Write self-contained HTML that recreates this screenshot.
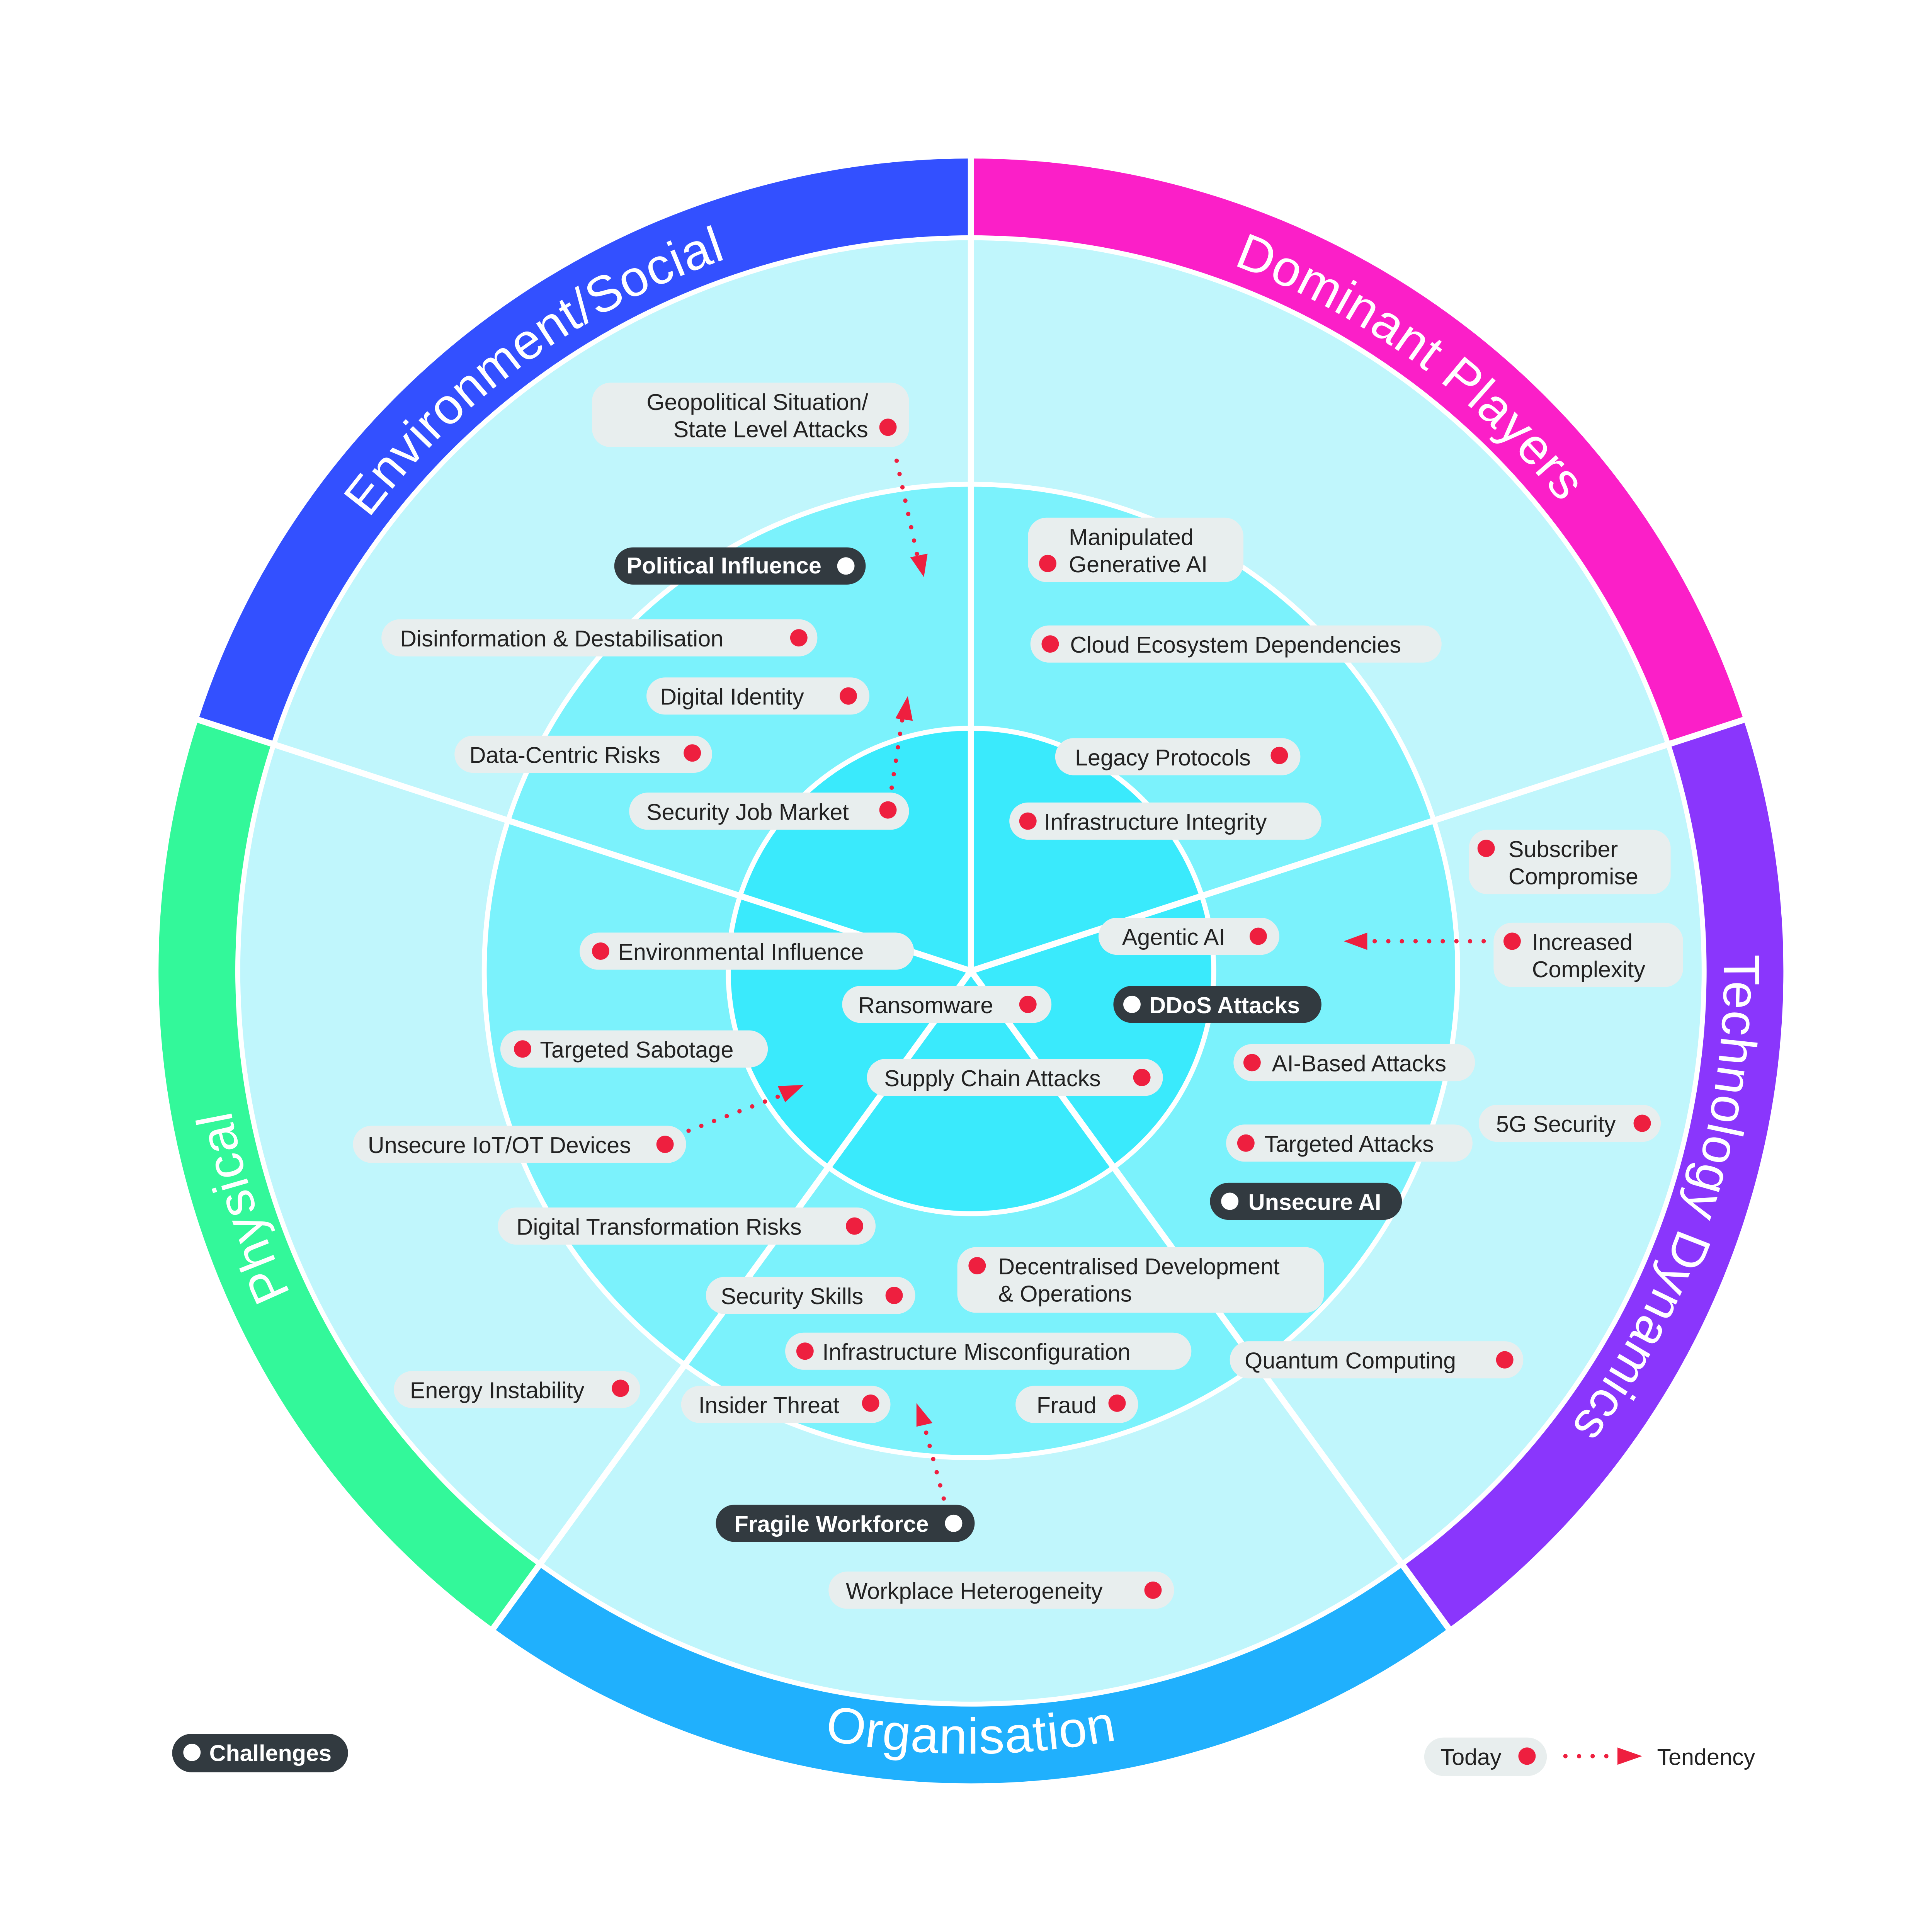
<!DOCTYPE html>
<html><head><meta charset="utf-8"><style>
html,body{margin:0;padding:0;background:#fff;width:100%;height:100%;overflow:hidden}
svg{display:block;width:100vw;height:100vh}
text{font-family:"Liberation Sans",sans-serif}
.t{font-size:18.5px;fill:#222}
.w{font-size:18.5px;fill:#fff;font-weight:bold}
.p{fill:#e8eeee}
.d{fill:#323a40}
.r{fill:#ee1f3f}
.rl{font-size:41px;fill:#fff;letter-spacing:0.5px}
.ar{stroke:#ee1f3f;stroke-width:3.5;stroke-linecap:round;stroke-dasharray:0 11;fill:none}
</style></head><body>
<svg viewBox="0 0 1560 1560" preserveAspectRatio="xMidYMid meet" xmlns="http://www.w3.org/2000/svg">
<rect width="1560" height="1560" fill="#fff"/>
<path d="M784,128 A656,656 0 0 1 1407.9,581.3 L1347.1,601.1 A592,592 0 0 0 784,192 Z" fill="#fb1fc8"/>
<path d="M1407.9,581.3 A656,656 0 0 1 1169.6,1314.7 L1132,1262.9 A592,592 0 0 0 1347.1,601.1 Z" fill="#8a36fc"/>
<path d="M1169.6,1314.7 A656,656 0 0 1 398.4,1314.7 L436,1262.9 A592,592 0 0 0 1132,1262.9 Z" fill="#20b0fd"/>
<path d="M398.4,1314.7 A656,656 0 0 1 160.1,581.3 L220.9,601.1 A592,592 0 0 0 436,1262.9 Z" fill="#33f89a"/>
<path d="M160.1,581.3 A656,656 0 0 1 784,128 L784,192 A592,592 0 0 0 220.9,601.1 Z" fill="#3350ff"/>
<circle cx="784" cy="784" r="592" fill="#c0f6fc" stroke="#fff" stroke-width="4"/>
<circle cx="784" cy="784" r="393" fill="#7bf2fc" stroke="#fff" stroke-width="4"/>
<circle cx="784" cy="784" r="196" fill="#3aeafc" stroke="#fff" stroke-width="4"/>
<g stroke="#fff" stroke-width="5">
<line x1="784" y1="784" x2="784" y2="124"/>
<line x1="784" y1="784" x2="1411.7" y2="580"/>
<line x1="784" y1="784" x2="1172" y2="1318"/>
<line x1="784" y1="784" x2="396" y2="1318"/>
<line x1="784" y1="784" x2="156.3" y2="580"/>
</g>
<defs>
<path id="aE" d="M205.7,596.1 A608,608 0 0 1 784,176"/>
<path id="aD" d="M784,176 A608,608 0 0 1 1362.3,596.1"/>
<path id="aT" d="M1362.3,596.1 A608,608 0 0 1 1141.4,1275.9"/>
<path id="aP" d="M426.6,1275.9 A608,608 0 0 1 205.7,596.1"/>
<path id="aO" d="M412.5,1295.3 A632,632 0 0 0 1155.5,1295.3"/>
</defs>
<text class="rl"><textPath href="#aE" startOffset="50%" text-anchor="middle">Environment/Social</textPath></text>
<text class="rl"><textPath href="#aD" startOffset="50%" text-anchor="middle">Dominant Players</textPath></text>
<text class="rl"><textPath href="#aT" startOffset="50%" text-anchor="middle">Technology Dynamics</textPath></text>
<text class="rl"><textPath href="#aP" startOffset="50%" text-anchor="middle">Physical</textPath></text>
<text class="rl"><textPath href="#aO" startOffset="50%" text-anchor="middle">Organisation</textPath></text>

<g>
<path class="ar" d="M724,372 L741,450"/><polygon class="r" points="735,450 749,447 746,466"/>
<path class="ar" d="M720,636 L729,578"/><polygon class="r" points="723,580 737,582 733,562"/>
<path class="ar" d="M1198,760 L1104,760"/><polygon class="r" points="1104,753 1104,767 1085,760"/>
<path class="ar" d="M556,913 L632,884"/><polygon class="r" points="628,877 634,890 649,876"/>
<path class="ar" d="M762,1210 L746,1150"/><polygon class="r" points="740,1152 753,1149 740,1133"/>
</g>

<rect class="p" x="478" y="309" width="256" height="52" rx="15"/>
<text class="t" x="701" y="331" text-anchor="end">Geopolitical Situation/</text>
<text class="t" x="701" y="353" text-anchor="end">State Level Attacks</text>
<circle class="r" cx="717" cy="345" r="7"/>

<rect class="d" x="496" y="442" width="203" height="30" rx="15"/>
<text class="w" x="506" y="463">Political Influence</text>
<circle cx="683" cy="457" r="7" fill="#fff"/>

<rect class="p" x="308" y="500" width="352" height="30" rx="15"/>
<text class="t" x="323" y="522">Disinformation &amp; Destabilisation</text>
<circle class="r" cx="645" cy="515" r="7"/>

<rect class="p" x="522" y="547" width="180" height="30" rx="15"/>
<text class="t" x="533" y="569">Digital Identity</text>
<circle class="r" cx="685" cy="562" r="7"/>

<rect class="p" x="367" y="594" width="208" height="30" rx="15"/>
<text class="t" x="379" y="616">Data-Centric Risks</text>
<circle class="r" cx="559" cy="608" r="7"/>

<rect class="p" x="508" y="640" width="226" height="30" rx="15"/>
<text class="t" x="522" y="662">Security Job Market</text>
<circle class="r" cx="717" cy="654" r="7"/>

<rect class="p" x="468" y="753" width="270" height="30" rx="15"/>
<circle class="r" cx="485" cy="768" r="7"/>
<text class="t" x="499" y="775">Environmental Influence</text>

<rect class="p" x="404" y="832" width="216" height="30" rx="15"/>
<circle class="r" cx="422" cy="847" r="7"/>
<text class="t" x="436" y="854">Targeted Sabotage</text>

<rect class="p" x="285" y="909" width="269" height="30" rx="15"/>
<text class="t" x="297" y="931">Unsecure IoT/OT Devices</text>
<circle class="r" cx="537" cy="924" r="7"/>

<rect class="p" x="318" y="1107" width="199" height="30" rx="15"/>
<text class="t" x="331" y="1129">Energy Instability</text>
<circle class="r" cx="501" cy="1121" r="7"/>

<rect class="p" x="680" y="796" width="169" height="30" rx="15"/>
<text class="t" x="693" y="818">Ransomware</text>
<circle class="r" cx="830" cy="811" r="7"/>

<rect class="d" x="899" y="796" width="168" height="30" rx="15"/>
<circle cx="914" cy="811" r="7" fill="#fff"/>
<text class="w" x="928" y="818">DDoS Attacks</text>

<rect class="p" x="700" y="855" width="239" height="30" rx="15"/>
<text class="t" x="714" y="877">Supply Chain Attacks</text>
<circle class="r" cx="922" cy="870" r="7"/>

<rect class="p" x="402" y="975" width="305" height="30" rx="15"/>
<text class="t" x="417" y="997">Digital Transformation Risks</text>
<circle class="r" cx="690" cy="990" r="7"/>

<rect class="p" x="570" y="1031" width="169" height="30" rx="15"/>
<text class="t" x="582" y="1053">Security Skills</text>
<circle class="r" cx="722" cy="1046" r="7"/>

<rect class="p" x="634" y="1076" width="328" height="30" rx="15"/>
<circle class="r" cx="650" cy="1091" r="7"/>
<text class="t" x="664" y="1098">Infrastructure Misconfiguration</text>

<rect class="p" x="550" y="1119" width="169" height="30" rx="15"/>
<text class="t" x="564" y="1141">Insider Threat</text>
<circle class="r" cx="703" cy="1133" r="7"/>

<rect class="p" x="820" y="1119" width="99" height="30" rx="15"/>
<text class="t" x="837" y="1141">Fraud</text>
<circle class="r" cx="902" cy="1133" r="7"/>

<rect class="d" x="578" y="1215" width="209" height="30" rx="15"/>
<text class="w" x="593" y="1237">Fragile Workforce</text>
<circle cx="770" cy="1230" r="7" fill="#fff"/>

<rect class="p" x="669" y="1269" width="279" height="30" rx="15"/>
<text class="t" x="683" y="1291">Workplace Heterogeneity</text>
<circle class="r" cx="931" cy="1284" r="7"/>

<rect class="p" x="830" y="418" width="174" height="52" rx="15"/>
<text class="t" x="863" y="440">Manipulated</text>
<text class="t" x="863" y="462">Generative AI</text>
<circle class="r" cx="846" cy="455" r="7"/>

<rect class="p" x="832" y="505" width="332" height="30" rx="15"/>
<circle class="r" cx="848" cy="520" r="7"/>
<text class="t" x="864" y="527">Cloud Ecosystem Dependencies</text>

<rect class="p" x="852" y="596" width="198" height="30" rx="15"/>
<text class="t" x="868" y="618">Legacy Protocols</text>
<circle class="r" cx="1033" cy="610" r="7"/>

<rect class="p" x="815" y="648" width="252" height="30" rx="15"/>
<circle class="r" cx="830" cy="663" r="7"/>
<text class="t" x="843" y="670">Infrastructure Integrity</text>

<rect class="p" x="1186" y="670" width="163" height="52" rx="15"/>
<circle class="r" cx="1200" cy="685" r="7"/>
<text class="t" x="1218" y="692">Subscriber</text>
<text class="t" x="1218" y="714">Compromise</text>

<rect class="p" x="887" y="741" width="146" height="30" rx="15"/>
<text class="t" x="906" y="763">Agentic AI</text>
<circle class="r" cx="1016" cy="756" r="7"/>

<rect class="p" x="1206" y="745" width="153" height="52" rx="15"/>
<circle class="r" cx="1221" cy="760" r="7"/>
<text class="t" x="1237" y="767">Increased</text>
<text class="t" x="1237" y="789">Complexity</text>

<rect class="p" x="996" y="843" width="195" height="30" rx="15"/>
<circle class="r" cx="1011" cy="858" r="7"/>
<text class="t" x="1027" y="865">AI-Based Attacks</text>

<rect class="p" x="1194" y="892" width="147" height="30" rx="15"/>
<text class="t" x="1208" y="914">5G Security</text>
<circle class="r" cx="1326" cy="907" r="7"/>

<rect class="p" x="990" y="908" width="199" height="30" rx="15"/>
<circle class="r" cx="1006" cy="923" r="7"/>
<text class="t" x="1021" y="930">Targeted Attacks</text>

<rect class="d" x="977" y="955" width="155" height="30" rx="15"/>
<circle cx="993" cy="970" r="7" fill="#fff"/>
<text class="w" x="1008" y="977">Unsecure AI</text>

<rect class="p" x="773" y="1007" width="296" height="53" rx="15"/>
<circle class="r" cx="789" cy="1022" r="7"/>
<text class="t" x="806" y="1029">Decentralised Development</text>
<text class="t" x="806" y="1051">&amp; Operations</text>

<rect class="p" x="993" y="1083" width="237" height="30" rx="15"/>
<text class="t" x="1005" y="1105">Quantum Computing</text>
<circle class="r" cx="1215" cy="1098" r="7"/>

<rect class="d" x="139" y="1400" width="142" height="31" rx="15.5"/>
<circle cx="155" cy="1415" r="7" fill="#fff"/>
<text class="w" x="169" y="1422">Challenges</text>

<rect class="p" x="1150" y="1403" width="99" height="31" rx="15.5"/>
<text class="t" x="1163" y="1425">Today</text>
<circle class="r" cx="1233" cy="1418" r="7"/>
<path class="ar" d="M1264,1418 L1299,1418"/>
<polygon class="r" points="1306,1411 1306,1425 1326,1418"/>
<text class="t" x="1338" y="1425">Tendency</text>
</svg>
</body></html>
